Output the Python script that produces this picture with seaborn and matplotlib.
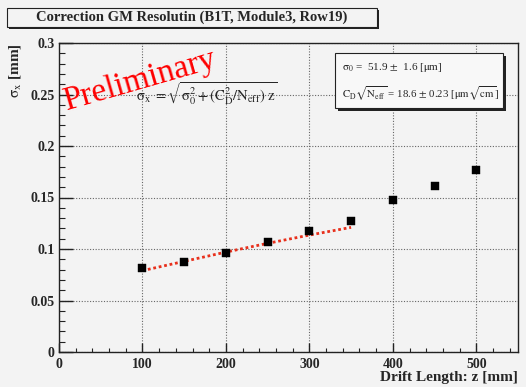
import matplotlib
matplotlib.use('Agg')
import matplotlib.pyplot as plt
import seaborn as sns
import pandas as pd
from matplotlib.patches import Rectangle

# measured resolution vs drift length
drift_length = [100, 150, 200, 250, 300, 350, 400, 450, 500]
sigma_x = [0.0813, 0.0877, 0.0959, 0.1072, 0.1170, 0.1267, 0.1478, 0.1615, 0.1771]

# fit curve
fit_z = [100, 150, 200, 250, 300, 350]
fit_sigma = [0.0790, 0.0880, 0.0970, 0.1055, 0.1135, 0.1210]

title = 'Correction GM Resolutin (B1T, Module3, Row19)'
stat_lines = [r'$\mathrm{\sigma_{0}}$ =  51.9 $\pm$  1.6 [$\mathrm{\mu}$m]',
              r'$\mathrm{C_{D}\sqrt{N_{eff}}}$ = 18.6 $\pm$ 0.23 [$\mathrm{\mu m\sqrt{cm}}$]']
formula = r'$\mathrm{\sigma_{x}\ =\sqrt{\sigma_{0}^{2}+(C_{D}^{2}/N_{eff})\ z}}$'

sns.set_theme(style='ticks')
plt.rcParams['font.family'] = ['Liberation Serif', 'DejaVu Serif']
plt.rcParams['mathtext.fontset'] = 'stix'

bg = '#f3f3f3'
W, H = 526, 387
fig = plt.figure(figsize=(W / 100, H / 100), dpi=100, facecolor=bg)


def fx(x):
    return x / W


def fy(y):
    return 1 - y / H


ax = fig.add_axes([fx(59), fy(352), fx(518) - fx(59), fy(43) - fy(352)])
ax.set_facecolor(bg)

df = pd.DataFrame({'z': drift_length, 'sigma': sigma_x})
fit = pd.DataFrame({'z': fit_z, 'sigma': fit_sigma})

sns.lineplot(data=fit, x='z', y='sigma', ax=ax, color='#e8301c', lw=2.0,
             linestyle=(0, (1, 1)), zorder=3)
sns.scatterplot(data=df, x='z', y='sigma', ax=ax, marker='s', s=30,
                color='black', edgecolor='black', linewidth=0.3, zorder=4)

ax.set_xlim(0, 550)
ax.set_ylim(0, 0.3)
ax.set_xticks([0, 100, 200, 300, 400, 500])
ax.set_xticks(range(0, 551, 20), minor=True)
ax.set_yticks([0, 0.05, 0.1, 0.15, 0.2, 0.25, 0.3])
ax.set_yticklabels(['0', '0.05', '0.1', '0.15', '0.2', '0.25', '0.3'])
ax.set_yticks([i / 100 for i in range(0, 31)], minor=True)
ax.grid(True, which='major', linestyle=(0, (1, 1.5)), color='#666666', lw=0.8)
ax.tick_params(axis='x', which='major', direction='in', length=6.5, width=1,
               pad=4, labelsize=10, color='#222222')
ax.tick_params(axis='x', which='minor', direction='in', length=3.2, width=0.8,
               color='#222222')
ax.tick_params(axis='y', which='major', direction='in', length=10, width=1,
               pad=3, labelsize=10, color='#222222')
ax.tick_params(axis='y', which='minor', direction='in', length=4.3, width=0.8,
               color='#222222')
for lbl in ax.get_xticklabels() + ax.get_yticklabels():
    lbl.set_fontweight('bold')
for sp in ax.spines.values():
    sp.set_color('#222222')
    sp.set_linewidth(1.0)

ax.set_xlabel('Drift Length: z [mm]', fontsize=11, fontweight='bold',
              loc='right', va='center')
ax.xaxis.set_label_coords(1.0, -0.081)
ax.set_ylabel(r'$\mathrm{\sigma_{x}}$ [mm]', fontsize=11, fontweight='bold',
              loc='top', va='center')
ax.yaxis.set_label_coords(-0.096, 1.0)

# title box with shadow
fig.patches.append(Rectangle((fx(9), fy(29)), fx(370), fy(0) - fy(19),
                             transform=fig.transFigure, facecolor='#222222',
                             edgecolor='none', zorder=1))
fig.patches.append(Rectangle((fx(7), fy(27)), fx(370), fy(0) - fy(19),
                             transform=fig.transFigure, facecolor=bg,
                             edgecolor='#222222', lw=0.8, zorder=2))
fig.text(fx(192), fy(17.5), title, ha='center', va='center', fontsize=10.5,
         fontweight='bold', zorder=3)

# stats box with shadow
fig.patches.append(Rectangle((fx(338), fy(111)), fx(168), fy(0) - fy(55),
                             transform=fig.transFigure, facecolor='#222222',
                             edgecolor='none', zorder=5))
fig.patches.append(Rectangle((fx(335), fy(108)), fx(168), fy(0) - fy(55),
                             transform=fig.transFigure, facecolor='#f8f8f8',
                             edgecolor='#222222', lw=0.8, zorder=6))
fig.text(fx(342), fy(67), stat_lines[0], ha='left', va='center', fontsize=8,
         zorder=7)
fig.text(fx(342), fy(94), stat_lines[1], ha='left', va='center', fontsize=7.8,
         zorder=7)

# fit function and watermark
fig.text(fx(207), fy(94), formula, ha='center', va='center', fontsize=10.5,
         zorder=7)
fig.text(fx(140), fy(81), 'Preliminary', color='red', fontsize=24,
         rotation=16, ha='center', va='center', zorder=8)

fig.savefig('out.png', dpi=100, facecolor=bg)
